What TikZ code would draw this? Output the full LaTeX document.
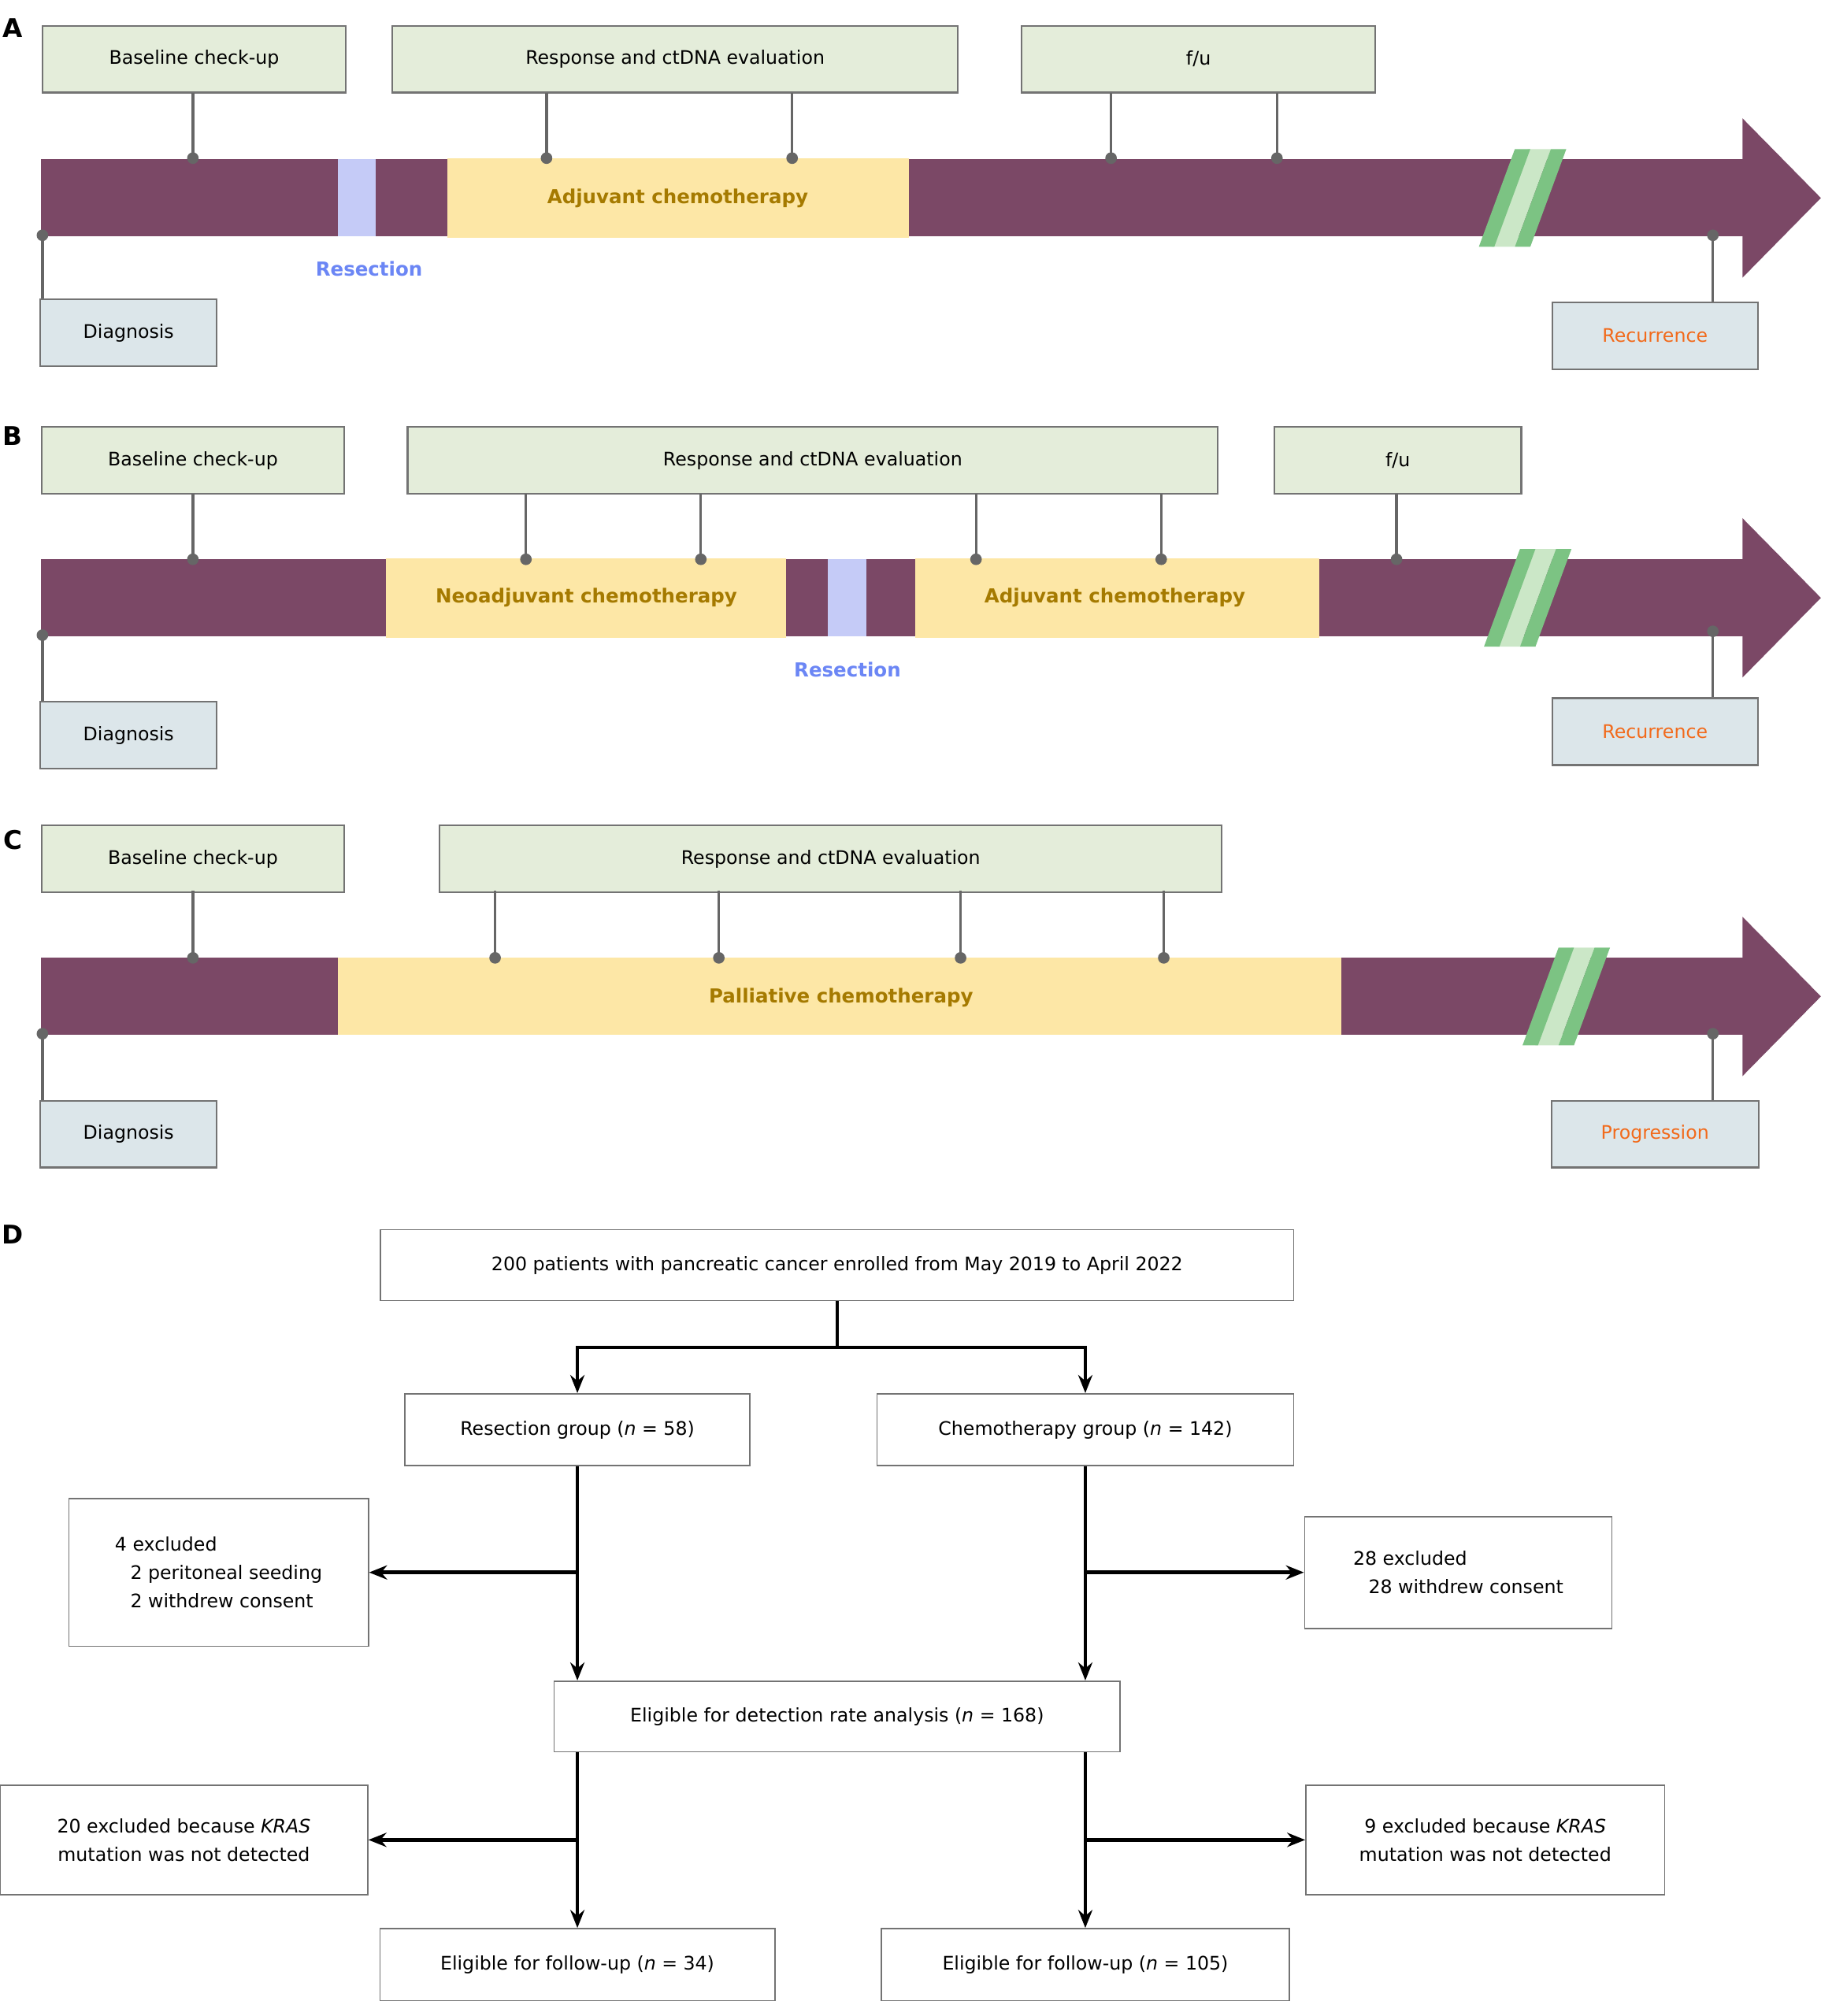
\documentclass[tikz,border=0pt]{standalone}
\usepackage{fontspec}
\setmainfont{DejaVu Sans}
\usetikzlibrary{arrows.meta}
\definecolor{plum}{HTML}{7B4866}
\definecolor{gbox}{HTML}{E4EDDA}
\definecolor{bbox}{HTML}{DCE6EA}
\definecolor{chemo}{HTML}{FDE7A6}
\definecolor{chemotxt}{HTML}{A57A00}
\definecolor{resx}{HTML}{C5CBF7}
\definecolor{restxt}{HTML}{6B86F5}
\definecolor{orng}{HTML}{F26A1B}
\definecolor{grn}{HTML}{7CC383}
\definecolor{lgrn}{HTML}{CBE7C7}
\tikzset{
 tl/.style={draw=gray!90!black,line width=1.3pt,fill=gbox,inner sep=0pt,font=\fontsize{14.5}{17}\selectfont},
 bl/.style={tl,fill=bbox},
 conn/.style={draw=gray!80!black,line width=2pt},
 dotc/.style={circle,fill=gray!80!black,inner sep=0pt,minimum size=9pt},
 lbl/.style={font=\fontsize{15}{18}\selectfont\bfseries},
 fbox/.style={draw=gray!90!black,line width=1pt,fill=white,inner sep=0pt,font=\fontsize{14.5}{22}\selectfont},
 farr/.style={line width=2.8pt,-{Stealth[length=14pt,width=11pt]}},
 fl/.style={line width=2.8pt}
}
\newcommand\mybar[1]{% #1 = top y
 \fill[plum] (32,#1) rectangle (1356,#1+60);
 \fill[plum] (1355,#1-32) -- (1416,#1+30) -- (1355,#1+92) -- cycle;}
\newcommand\brk[2]{% x, bar top y
 \fill[lgrn] (#1+26,#1*0+#2-8) -- (#1+44,#2-8) -- (#1+16,#2+68) -- (#1-2,#2+68) -- cycle;
 \fill[grn] (#1+16,#2-8) -- (#1+28,#2-8) -- (#1,#2+68) -- (#1-12,#2+68) -- cycle;
 \fill[grn] (#1+44,#2-8) -- (#1+56,#2-8) -- (#1+28,#2+68) -- (#1+16,#2+68) -- cycle;}
\newcommand\tick[3]{\draw[conn] (#1,#2) -- (#1,#3); \node[dotc] at (#1,#3) {};}
\begin{document}
\begin{tikzpicture}[x=1pt,y=-1pt]
\useasboundingbox (0,0) rectangle (1416,1568);
\fill[white] (0,0) rectangle (1416,1568);
% panel labels
\node[font=\fontsize{20}{24}\selectfont\bfseries] (lA) at (10,22) {A};
\node[font=\fontsize{20}{24}\selectfont\bfseries] (lB) at (10,339) {B};
\node[font=\fontsize{20}{24}\selectfont\bfseries] (lC) at (10,653) {C};
\node[font=\fontsize{20}{24}\selectfont\bfseries] (lD) at (10,960) {D};
% ---------- A
\mybar{124}
\fill[resx] (263,124) rectangle (292,184);
\fill[chemo] (348,123) rectangle (707,185);
\node[lbl,text=chemotxt] (aadj) at (527,154) {Adjuvant chemotherapy};
\node[lbl,text=restxt] (ares) at (287,209) {Resection};
\brk{1162}{124}
\node[tl,minimum width=236,minimum height=52] (ab) at (151,46) {Baseline check-up};
\node[tl,minimum width=440,minimum height=52] (ar) at (525,46) {Response and ctDNA evaluation};
\node[tl,minimum width=275,minimum height=52] (af) at (932,46) {f/u};
\tick{150}{72}{123}\tick{425}{72}{123}\tick{616}{72}{123}\tick{864}{72}{123}\tick{993}{72}{123}
\node[bl,minimum width=137,minimum height=52] (ad) at (100,259) {Diagnosis};
\node[bl,minimum width=160,minimum height=52,text=orng] (arc) at (1287,261) {Recurrence};
\draw[conn] (33,183) -- (ad.north -| 33,0); \node[dotc] at (33,183) {};
\draw[conn] (1332,183) -- (arc.north -| 1332,0); \node[dotc] at (1332,183) {};
% ---------- B
\mybar{435}
\fill[chemo] (300,434) rectangle (611,496);
\fill[chemo] (712,434) rectangle (1026,496);
\fill[resx] (644,435) rectangle (674,495);
\node[lbl,text=chemotxt] (bneo) at (456,465) {Neoadjuvant chemotherapy};
\node[lbl,text=chemotxt] (badj) at (867,465) {Adjuvant chemotherapy};
\node[lbl,text=restxt] (bres) at (659,521) {Resection};
\brk{1166}{435}
\node[tl,minimum width=235,minimum height=52] (bb) at (150,358) {Baseline check-up};
\node[tl,minimum width=630,minimum height=52] (br) at (632,358) {Response and ctDNA evaluation};
\node[tl,minimum width=192,minimum height=52] (bf) at (1087,358) {f/u};
\tick{150}{384}{435}\tick{409}{384}{435}\tick{545}{384}{435}\tick{759}{384}{435}\tick{903}{384}{435}\tick{1086}{384}{435}
\node[bl,minimum width=137,minimum height=52] (bd) at (100,572) {Diagnosis};
\node[bl,minimum width=160,minimum height=52,text=orng] (brc) at (1287,569) {Recurrence};
\draw[conn] (33,494) -- (bd.north -| 33,0); \node[dotc] at (33,494) {};
\draw[conn] (1332,491) -- (brc.north -| 1332,0); \node[dotc] at (1332,491) {};
% ---------- C
\mybar{745}
\fill[chemo] (263,745) rectangle (1043,805);
\node[lbl,text=chemotxt] (cpal) at (654,776) {Palliative chemotherapy};
\brk{1196}{745}
\node[tl,minimum width=235,minimum height=52] (cb) at (150,668) {Baseline check-up};
\node[tl,minimum width=608,minimum height=52] (cr) at (646,668) {Response and ctDNA evaluation};
\tick{150}{693}{745}\tick{385}{693}{745}\tick{559}{693}{745}\tick{747}{693}{745}\tick{905}{693}{745}
\node[bl,minimum width=137,minimum height=52] (cd) at (100,882) {Diagnosis};
\node[bl,minimum width=161,minimum height=52,text=orng] (cpg) at (1287,882) {Progression};
\draw[conn] (33,804) -- (cd.north -| 33,0); \node[dotc] at (33,804) {};
\draw[conn] (1332,804) -- (cpg.north -| 1332,0); \node[dotc] at (1332,804) {};
% ---------- D
\node[fbox,minimum width=710,minimum height=55] (top) at (651,984) {200 patients with pancreatic cancer enrolled from May 2019 to April 2022};
\node[fbox,minimum width=268,minimum height=56] (rg) at (449,1112) {Resection group (\textit{n} = 58)};
\node[fbox,minimum width=324,minimum height=56] (cg) at (844,1112) {Chemotherapy group (\textit{n} = 142)};
\node[fbox,minimum width=233,minimum height=115,align=left] (ex1) at (170,1223) {4 excluded\\\hspace{12pt}2 peritoneal seeding\\\hspace{12pt}2 withdrew consent};
\node[fbox,minimum width=239,minimum height=87,align=left] (ex2) at (1134,1223) {28 excluded\\\hspace{12pt}28 withdrew consent};
\node[fbox,minimum width=440,minimum height=55] (el) at (651,1335) {Eligible for detection rate analysis (\textit{n} = 168)};
\node[fbox,minimum width=286,minimum height=85,align=center] (ex3) at (143,1431) {20 excluded because \textit{KRAS}\\mutation was not detected};
\node[fbox,minimum width=279,minimum height=85,align=center] (ex4) at (1155,1431) {9 excluded because \textit{KRAS}\\mutation was not detected};
\node[fbox,minimum width=307,minimum height=56] (f1) at (449,1528) {Eligible for follow-up (\textit{n} = 34)};
\node[fbox,minimum width=317,minimum height=56] (f2) at (844,1528) {Eligible for follow-up (\textit{n} = 105)};
\coordinate (j) at (651,1048);
\draw[fl] (top.south) -- (j);
\draw[farr] (j) -| (rg.north);
\draw[farr] (j) -| (cg.north);
\draw[farr] (rg.south) -- (el.north -| rg.south);
\draw[farr] (cg.south) -- (el.north -| cg.south);
\draw[farr] (449,1223) -- (ex1.east);
\draw[farr] (844,1223) -- (ex2.west);
\draw[farr] (el.south -| f1.north) -- (f1.north);
\draw[farr] (el.south -| f2.north) -- (f2.north);
\draw[farr] (449,1431) -- (ex3.east);
\draw[farr] (844,1431) -- (ex4.west);
\end{tikzpicture}
\end{document}
